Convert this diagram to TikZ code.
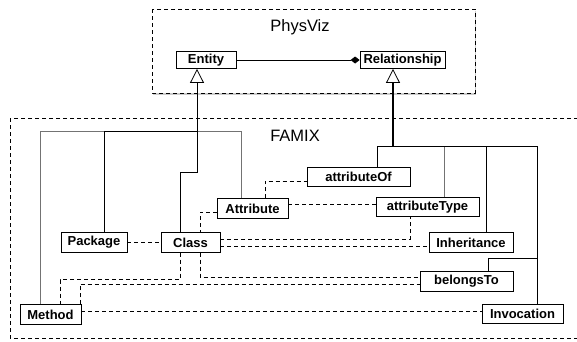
\documentclass[tikz,border=0pt]{standalone}
\usepackage{fontspec}
\setmainfont{Liberation Sans}
\usetikzlibrary{arrows.meta,shadows}

\begin{document}
\begin{tikzpicture}[x=1pt,y=-1pt,line width=0.8pt,
    cls/.style={draw,fill=white,font=\fontsize{13}{15}\selectfont\bfseries,inner sep=1.5pt,minimum height=19.5pt},
    pkg/.style={draw,line width=1pt,dash pattern=on 4pt off 3pt},
    title/.style={font=\fontsize{16.5}{19}\selectfont,anchor=base},
    gen/.style={-{Triangle[open,length=14pt,width=14pt,line width=0.8pt]}},
    dep/.style={dash pattern=on 4pt off 3pt},
    faint/.style={draw=black!55}]
  \useasboundingbox (0,0) rectangle (577,341);
  % packages
  \draw[pkg,fill=white,drop shadow={shadow xshift=0.5pt,shadow yshift=-2pt,opacity=.4}] (152,9) rectangle (475,93);
  \draw[pkg] (10,118) rectangle (585,338);
  \node[title] (physviz) at (300,31) {PhysViz};
  \node[title] (famix) at (295,141.5) {FAMIX};

  % classes
  \node[cls,minimum width=60pt,minimum height=17pt] (entity) at (206,60) {Entity};
  \node[cls,minimum width=85pt,minimum height=17pt] (relationship) at (402.5,60) {Relationship};
  \node[cls,minimum width=103pt] (attributeof) at (358.5,177) {attributeOf};
  \node[cls,minimum width=103pt] (attributetype) at (427.5,207) {attributeType};
  \node[cls,minimum width=71pt] (attribute) at (252.5,208.5) {Attribute};
  \node[cls,minimum width=59pt] (class) at (190.5,242.5) {Class};
  \node[cls,minimum width=66pt] (package) at (94,242.5) {Package};
  \node[cls,minimum width=61pt] (method) at (50.5,314.5) {Method};
  \node[cls,minimum width=84pt] (inheritance) at (471,242.5) {Inheritance};
  \node[cls,minimum width=93pt] (belongsto) at (466.5,281.5) {belongsTo};
  \node[cls,minimum width=81pt] (invocation) at (522.5,314) {Invocation};

  \coordinate (ehub) at (197,131);
  \coordinate (rhub) at (393,146);
  \coordinate (ijoin) at (537,258);

  \draw[-{Diamond[length=9pt,width=7pt]}] (entity) -- (relationship);
  \draw[gen] (ehub) -- (ehub |- entity.south);
  \draw[gen,line width=1.5pt] (rhub) -- (rhub |- relationship.south);

  % Entity subclasses
  \draw[faint] ([xshift=-10.5pt]method.north) |- (ehub);
  \draw[faint] ([xshift=-11.5pt]attribute.north) |- (ehub);
  \draw ([xshift=10pt]package.north) |- (ehub);
  \draw ([xshift=-10.5pt]class.north) -- ++(0,-60) -| (ehub);

  % Relationship subclasses
  \draw ([xshift=18.5pt]attributeof.north) |- (rhub);
  \draw[faint] ([xshift=16.5pt]attributetype.north) |- (rhub);
  \draw ([xshift=15pt]inheritance.north) |- (rhub);
  \draw ([xshift=14.5pt]invocation.north) |- (rhub);
  \draw ([xshift=21.5pt]belongsto.north) |- (ijoin);

  % links
  \draw[dep] (package) -- (class);
  \draw[dep] ([yshift=-3.5pt]attribute.west) -| ([xshift=9.5pt]class.north);
  \draw[dep] ([xshift=12.5pt]attribute.north) |- ([yshift=-4pt]attributeof.west);
  \draw[dep] ([yshift=4pt]attribute.east) -- ([yshift=4pt]attribute.east -| attributetype.west);
  \draw[dep] ([yshift=3pt]class.east) -| ([xshift=-17.5pt]attributetype.south);
  \draw[dep] ([yshift=-3.5pt]class.east) -- ([yshift=-3.5pt]class.east -| inheritance.west);
  \draw[dep] ([xshift=9.5pt]class.south) |- ([yshift=4.5pt]belongsto.west);
  \draw[dep] ([xshift=-10.5pt]class.south) -- ++(0,27) -| ([xshift=9.5pt]method.north);
  \draw[dep] ([xshift=29.5pt]method.north) |- ([yshift=-2.5pt]belongsto.west);
  \draw[dep] ([yshift=3pt]method.east) -- ([yshift=3pt]method.east -| invocation.west);
\end{tikzpicture}
\end{document}
